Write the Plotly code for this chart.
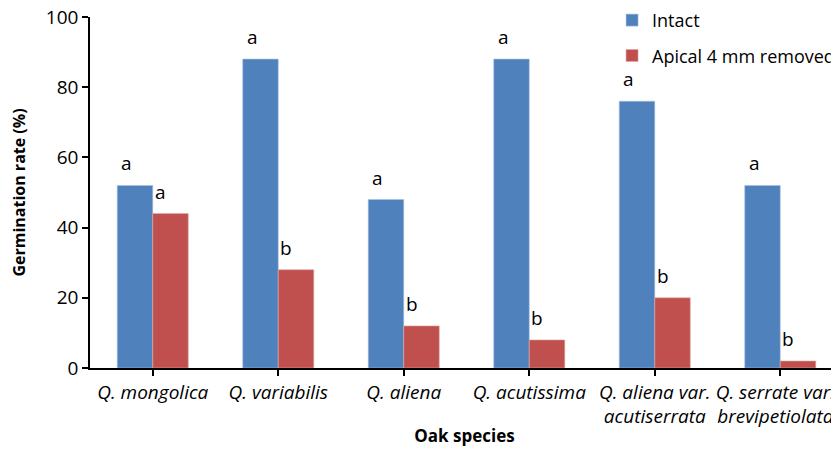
import plotly.graph_objects as go

species = ["Q. mongolica", "Q. variabilis", "Q. aliena", "Q. acutissima",
           "Q. aliena var.<br>acutiserrata",
           "Q. serrate var.&nbsp;&nbsp;<br>brevipetiolata&nbsp;&nbsp;"]
intact = [52, 88, 48, 88, 76, 52]
removed = [44, 28, 12, 8, 20, 2]
intact_letters = ["a", "a", "a", "a", "a", "a"]
removed_letters = ["a", "b", "b", "b", "b", "b"]
y_ticks = [0, 20, 40, 60, 80, 100]

FONT = "Open Sans"
xs = list(range(len(species)))

fig = go.Figure()
fig.add_trace(go.Bar(x=xs, y=intact, name="Intact", marker_color="#4F81BD",
                     marker_line=dict(color="#A9C0DE", width=0.6), legendgroup="g1"))
fig.add_trace(go.Bar(x=xs, y=removed, name="Apical 4 mm removed", marker_color="#C0504D",
                     marker_line=dict(color="#E0A8A6", width=0.6), legendgroup="g2"))

for i in xs:
    fig.add_annotation(x=i, y=intact[i], text=intact_letters[i], showarrow=False,
                       xshift=-26, yshift=7, yanchor="bottom",
                       font=dict(family=FONT, size=19, color="#000"))
    fig.add_annotation(x=i, y=removed[i], text=removed_letters[i], showarrow=False,
                       xshift=8, yshift=7, yanchor="bottom",
                       font=dict(family=FONT, size=19, color="#000"))

fig.update_layout(
    width=831, height=439,
    margin=dict(l=82, r=0, t=9, b=79, autoexpand=False),
    paper_bgcolor="white", plot_bgcolor="white",
    barmode="group", bargap=0.434, bargroupgap=0,
    font=dict(family=FONT, size=18, color="#000"),
    legend=dict(x=0.697, y=1.043, xanchor="left", yanchor="top",
                font=dict(family=FONT, size=18), tracegroupgap=9,
                bgcolor="rgba(0,0,0,0)", itemwidth=30),
    showlegend=True,
)
fig.update_xaxes(
    tickmode="array", tickvals=xs, ticktext=species,
    range=[-0.5, 5.468], automargin=False, ticklabeloverflow="allow",
    showline=True, linecolor="#000", linewidth=1.5,
    ticks="outside", ticklen=6, tickcolor="#000", tickwidth=1.5,
    showgrid=False, zeroline=False,
    tickfont=dict(family=FONT, size=19, style="italic"),
    title=dict(text="<b>Oak species</b>", font=dict(family=FONT, size=17), standoff=6),
)
fig.update_yaxes(
    range=[0, 100], tickvals=y_ticks, automargin=False, ticklabeloverflow="allow",
    showline=True, linecolor="#000", linewidth=1.5,
    ticks="outside", ticklen=6, tickcolor="#000", tickwidth=1.5,
    showgrid=False, zeroline=False,
    tickfont=dict(family=FONT, size=19),
    title=dict(text="<b>Germination rate (%)</b>", font=dict(family=FONT, size=16), standoff=24),
)
fig.write_html("out.html")
